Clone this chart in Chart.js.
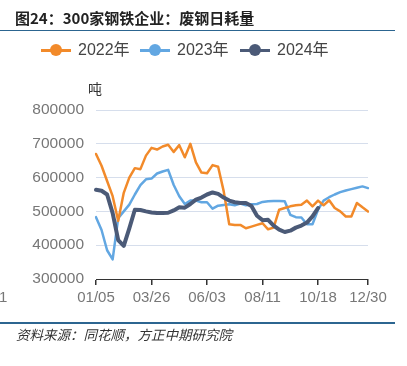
<!DOCTYPE html>
<html>
<head>
<meta charset="utf-8">
<script src="https://cdn.jsdelivr.net/npm/chart.js@4.4.1/dist/chart.umd.min.js"></script>
<style>
    html, body { margin: 0; padding: 0; background: #fff; }
    body { width: 407px; height: 366px; position: relative; overflow: hidden;
           font-family: "Liberation Sans", "Noto Sans CJK SC", sans-serif; }
    #chart-wrap { position: absolute; left: 0; top: 0; width: 407px; height: 366px; }
    .title { position: absolute; left: 15px; top: 9px; font-size: 15px; font-weight: bold; color: #222;
             font-family: "Noto Sans CJK SC", sans-serif; line-height: 18px; white-space: nowrap; }
    .rule { position: absolute; left: 0; width: 395px; height: 1.5px; background: #2c6590; }
    .legend { position: absolute; top: 41px; left: 0; height: 18px; }
    .legend-item { position: absolute; top: 0; height: 18px; font-size: 16px; color: #444; line-height: 18px; white-space: nowrap; }
    .legend-item i { position: absolute; left: 0; top: 8px; width: 30px; height: 3px; }
    .legend-item b { position: absolute; left: 9px; top: 3px; width: 12px; height: 12px; border-radius: 50%; }
    .legend-item span { position: absolute; left: 37px; top: 0; }
    .unit { position: absolute; left: 88px; top: 78px; font-size: 14px; color: #333; font-family: "Noto Sans CJK SC", sans-serif; }
    .stub { position: absolute; left: -1px; top: 288px; font-size: 15px; color: #777; }
    .source { position: absolute; left: 16px; top: 324px; font-size: 13.5px; font-style: italic; color: #333;
              font-family: "Noto Sans CJK SC", sans-serif; white-space: nowrap; }
</style>
</head>
<body>
<div id="chart-wrap"><canvas id="steel-chart" width="407" height="366"></canvas></div>
<div class="title">图24：300家钢铁企业：废钢日耗量</div>
<div class="rule" style="top: 29.5px;"></div>
<div class="legend" id="legend"></div>
<div class="unit">吨</div>
<div class="stub">1</div>
<div class="rule" style="top: 322px;"></div>
<div class="source">资料来源：同花顺，方正中期研究院</div>
<script>
// x axis: 50 weekly points, only some dates are shown as ticks
const POINT_COUNT = 50;
const tickLabels = ['01/05', '03/26', '06/03', '08/11', '10/18', '12/30'];
const tickIndex = [0, 10, 20, 30, 40, 49];

const yTicks = [300000, 400000, 500000, 600000, 700000, 800000];

const seriesNames = ['2022年', '2023年', '2024年'];
const seriesColors = ['#f28a2a', '#62a7e2', '#4b5a77'];

const values2022 = [
    670000, 635000, 590000, 545000, 472000, 555000, 600000, 628000, 625000, 665000,
    688000, 683000, 692000, 697000, 676000, 696000, 660000, 700000, 645000, 615000,
    613000, 637000, 632000, 560000, 462000, 460000, 460000, 450000, 455000, 460000,
    465000, 447000, 452000, 505000, 510000, 515000, 518000, 520000, 532000, 515000,
    532000, 518000, 533000, 510000, 500000, 485000, 485000, 525000, 512000, 500000
];

const values2023 = [
    483000, 445000, 385000, 358000, 480000, 500000, 520000, 550000, 578000, 595000,
    597000, 612000, 618000, 623000, 578000, 545000, 522000, 532000, 532000, 527000,
    527000, 508000, 517000, 519000, 521000, 518000, 523000, 518000, 521000, 522000,
    528000, 530000, 531000, 531000, 530000, 490000, 483000, 482000, 462000, 462000,
    505000, 532000, 542000, 550000, 557000, 562000, 566000, 570000, 574000, 569000
];

const values2024 = [
    564000, 561000, 550000, 495000, 415000, 398000, 450000, 505000, 504000, 500000,
    497000, 495000, 495000, 496000, 503000, 512000, 511000, 522000, 535000, 541000,
    550000, 556000, 552000, 541000, 532000, 527000, 525000, 525000, 516000, 487000,
    474000, 475000, 458000, 446000, 439000, 443000, 452000, 458000, 467000, 485000,
    510000
];

const labels = Array.from({ length: POINT_COUNT }, (_, i) => {
    const k = tickIndex.indexOf(i);
    return k >= 0 ? tickLabels[k] : '';
});

const legendBox = document.getElementById('legend');
const legendLeft = [41, 140, 240];
seriesNames.forEach((name, i) => {
    const item = document.createElement('div');
    item.className = 'legend-item';
    item.style.left = legendLeft[i] + 'px';
    item.innerHTML = `<i style="background:${seriesColors[i]}"></i><b style="background:${seriesColors[i]}"></b><span>${name}</span>`;
    legendBox.appendChild(item);
});

const FONT = '"Liberation Sans", "Noto Sans CJK SC", sans-serif';

new Chart(document.getElementById('steel-chart'), {
    type: 'line',
    data: {
        labels,
        datasets: [
            { label: seriesNames[0], data: values2022, borderColor: seriesColors[0], borderWidth: 2.5, order: 1 },
            { label: seriesNames[1], data: values2023, borderColor: seriesColors[1], borderWidth: 2.5, order: 2 },
            { label: seriesNames[2], data: values2024, borderColor: seriesColors[2], borderWidth: 4, order: 0 }
        ]
    },
    options: {
        responsive: false,
        animation: false,
        devicePixelRatio: 1,
        layout: { padding: { top: 110, right: 39, bottom: 0, left: 0 } },
        elements: {
            line: { tension: 0, fill: false, borderJoinStyle: 'round', borderCapStyle: 'round' },
            point: { radius: 0, hoverRadius: 0 }
        },
        plugins: { legend: { display: false }, tooltip: { enabled: false } },
        scales: {
            x: {
                type: 'category',
                offset: false,
                afterFit: (scale) => { scale.height = 87; },
                grid: { drawOnChartArea: false, drawTicks: true, tickLength: 6, color: '#333', lineWidth: 1.5 },
                border: { display: true, color: '#333', width: 1 },
                ticks: {
                    autoSkip: false,
                    maxRotation: 0,
                    padding: 4,
                    color: '#777',
                    font: { family: FONT, size: 15 },
                    callback: function (v, i) { return labels[i] ? labels[i] : null; }
                }
            },
            y: {
                min: yTicks[0],
                max: yTicks[yTicks.length - 1],
                afterFit: (scale) => { scale.width = 96; },
                afterBuildTicks: (scale) => { scale.ticks = yTicks.map(v => ({ value: v })); },
                grid: { color: '#d6deec', lineWidth: 1, drawTicks: false },
                border: { display: false },
                ticks: {
                    padding: 12,
                    color: '#777',
                    font: { family: FONT, size: 15.5 },
                    callback: (v) => String(v)
                }
            }
        }
    }
});
</script>
</body>
</html>
